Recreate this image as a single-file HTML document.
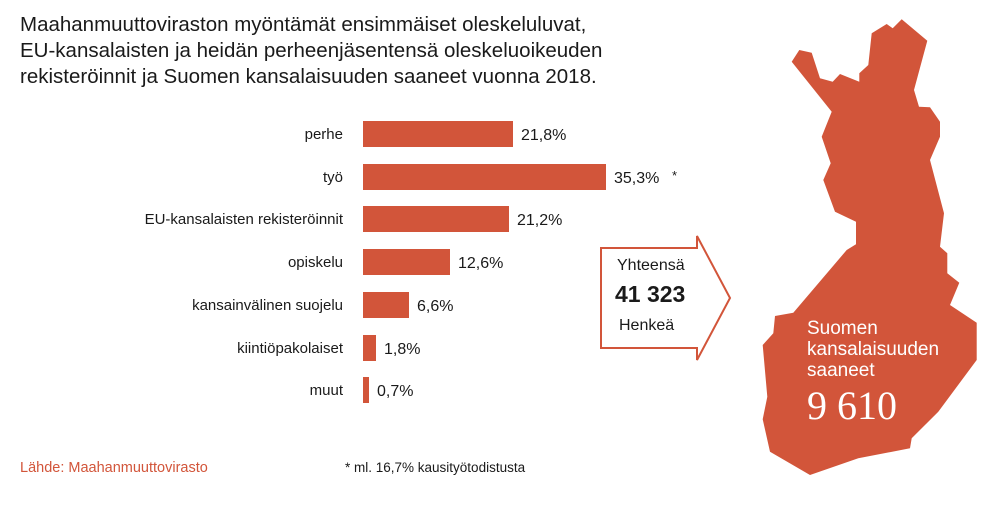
<!DOCTYPE html>
<html><head><meta charset="utf-8"><style>
body{margin:0;width:1000px;height:500px;background:#fff;overflow:hidden;font-family:"Liberation Sans",sans-serif;}
</style></head><body>
<svg width="1000" height="500" xmlns="http://www.w3.org/2000/svg" font-family="Liberation Sans, sans-serif">
<text x="20" y="31" font-size="20.5" fill="#1a1a1a">Maahanmuuttoviraston myöntämät ensimmäiset oleskeluluvat,</text>
<text x="20" y="57" font-size="20.5" fill="#1a1a1a">EU-kansalaisten ja heidän perheenjäsentensä oleskeluoikeuden</text>
<text x="20" y="83" font-size="20.5" fill="#1a1a1a">rekisteröinnit ja Suomen kansalaisuuden saaneet vuonna 2018.</text>
<g fill="#d2553a">
<rect x="363" y="121" width="150" height="26"/>
<rect x="363" y="164" width="243" height="26"/>
<rect x="363" y="206" width="146" height="26"/>
<rect x="363" y="249" width="87" height="26"/>
<rect x="363" y="292" width="46" height="26"/>
<rect x="363" y="335" width="13" height="26"/>
<rect x="363" y="377" width="6" height="26"/>
</g>
<g font-size="15" fill="#1a1a1a" text-anchor="end">
<text x="343" y="139">perhe</text>
<text x="343" y="182">työ</text>
<text x="343" y="224">EU-kansalaisten rekisteröinnit</text>
<text x="343" y="267">opiskelu</text>
<text x="343" y="310">kansainvälinen suojelu</text>
<text x="343" y="353">kiintiöpakolaiset</text>
<text x="343" y="395">muut</text>
</g>
<g font-size="16" fill="#1a1a1a">
<text x="521" y="140">21,8%</text>
<text x="614" y="183">35,3%</text><text x="672" y="180" font-size="13">*</text>
<text x="517" y="225">21,2%</text>
<text x="458" y="268">12,6%</text>
<text x="417" y="311">6,6%</text>
<text x="384" y="354">1,8%</text>
<text x="377" y="396">0,7%</text>
</g>
<path d="M601,248 H697 V236 L730,298 L697,360 V348 H601 Z" fill="#fff" stroke="#d2553a" stroke-width="2"/>
<text x="617" y="270" font-size="16" fill="#1a1a1a">Yhteensä</text>
<text x="615" y="302" font-size="23" font-weight="bold" fill="#1a1a1a">41 323</text>
<text x="619" y="330" font-size="16" fill="#1a1a1a">Henkeä</text>
<polygon fill="#d2553a" points="791.7,61.7 799.3,50 811.7,52.7 820,78.3 832.7,81.7 840,74 859.3,81.7 859.3,73.3 868.3,65 871.7,33.3 886.7,24 892.7,28.3 901.7,19.3 927.3,40.7 914,90 919,106.7 930,107.3 940,121.7 940,136.7 930,160 944,213.3 940,246.7 947.3,253.3 947.3,273.3 959.3,282.7 950,305 976.7,322.7 976.7,360 938.3,411.7 911.7,438.3 910,448.3 858.3,458.3 810,475 770,451.7 762.7,419.3 767.3,396.7 762.7,345 773.3,333.3 775,316 793.3,312.7 846.7,250 856,244.3 856,221.7 835,211.7 823.3,180 830.7,163.3 821.7,136.7 831.7,111.7"/>
<g fill="#fff" font-size="19">
<text x="807" y="334">Suomen</text>
<text x="807" y="355">kansalaisuuden</text>
<text x="807" y="376">saaneet</text>
<text x="807" y="419" font-size="40" font-family="Liberation Serif, serif">9 610</text>
</g>
<text x="20" y="472" font-size="14.5" fill="#d2553a">Lähde: Maahanmuuttovirasto</text>
<text x="345" y="472" font-size="13.5" fill="#1a1a1a">* ml. 16,7% kausityötodistusta</text>
</svg>
</body></html>
